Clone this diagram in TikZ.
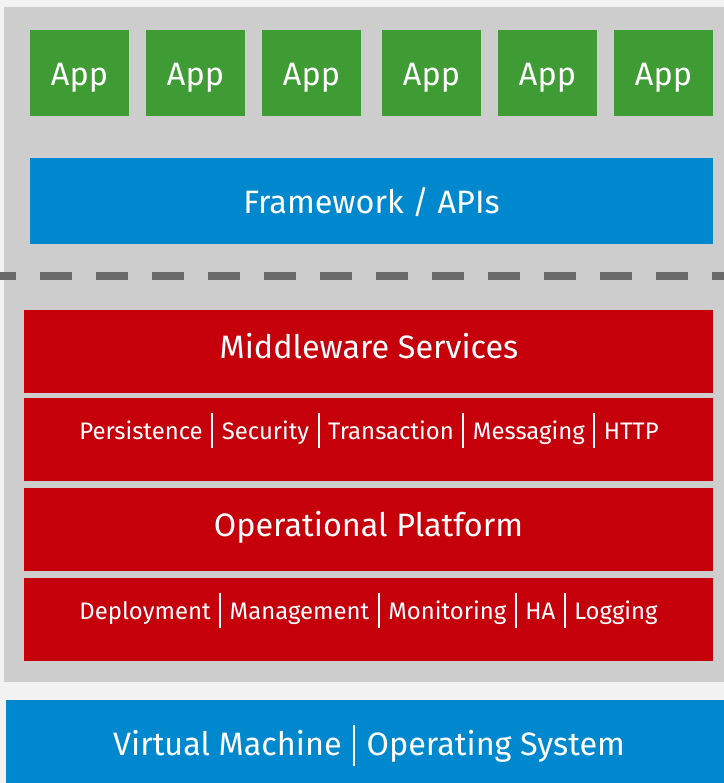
\documentclass[tikz,border=0pt]{standalone}
\usepackage{fontspec}
\setmainfont{Fira Sans}
\definecolor{bgc}{HTML}{F2F2F2}
\definecolor{panelc}{HTML}{CDCDCD}
\definecolor{appc}{HTML}{3F9C35}
\definecolor{bluec}{HTML}{0088CE}
\definecolor{redc}{HTML}{C5000B}
\definecolor{dashc}{HTML}{6A6A6A}
\newcommand{\sepbar}[3]{\hspace{#3}\rule[-#1]{2bp}{#2}\hspace{#3}}
\tikzset{
  boxbase/.style={rectangle, inner sep=0pt, anchor=center},
  appbox/.style={boxbase, fill=appc, minimum width=99bp, minimum height=86bp},
  fwbox/.style={boxbase, fill=bluec, minimum width=683bp, minimum height=86bp},
  redbox/.style={boxbase, fill=redc, minimum width=689bp, minimum height=83bp},
  vmbox/.style={boxbase, fill=bluec, minimum width=718bp, minimum height=83bp},
  lbl/.style={inner sep=0pt, anchor=base, text=white},
  bigtext/.style={lbl, font=\fontsize{32.5}{38}\selectfont},
  smalltext/.style={lbl, font=\fontsize{24}{28}\selectfont},
}
\begin{document}
\begin{tikzpicture}[x=1bp,y=-1bp]
\fill[bgc] (0,0) rectangle (724,783);
\useasboundingbox (0,0) rectangle (724,783);
\fill[panelc] (4,7) rectangle (724,682);
% apps
\foreach \i/\cx in {1/79.5,2/195.5,3/311.5,4/431.5,5/547.5,6/663.5}{
  \node[appbox] (app\i) at (\cx,73) {};
  \node[bigtext] (appt\i) at (\cx,85) {App};
}
% framework
\node[fwbox] (fw) at (371.5,201) {};
\node[bigtext] (fwt) at (371.5,213) {Framework / APIs};
% dashed divider
\coordinate (dl) at (0,276);
\coordinate (dr) at (724,276);
\draw[dashc, line width=8bp, dash pattern=on 32bp off 24bp, dash phase=16bp] (dl) -- (dr);
% red layers
\node[redbox] (mw) at (368.5,351.5) {};
\node[bigtext] (mwt) at (369,358) {Middleware Services};
\node[redbox] (mws) at (368.5,439.5) {};
\node[smalltext] (mwst) at (369,439) {Persistence\sepbar{9bp}{35bp}{8.5bp}Security\sepbar{9bp}{35bp}{8.5bp}Transaction\sepbar{9bp}{35bp}{8.5bp}Messaging\sepbar{9bp}{35bp}{8.5bp}HTTP};
\node[redbox] (op) at (368.5,529.5) {};
\node[bigtext] (opt) at (368.5,536.5) {Operational Platform};
\node[redbox] (ops) at (368.5,619.5) {};
\node[smalltext] (opst) at (368.5,619) {Deployment\sepbar{9bp}{35bp}{8.5bp}Management\sepbar{9bp}{35bp}{8.5bp}Monitoring\sepbar{9bp}{35bp}{8.5bp}HA\sepbar{9bp}{35bp}{8.5bp}Logging};
% bottom
\node[vmbox] (vm) at (365,741.5) {};
\node[bigtext] (vmt) at (369,755) {Virtual Machine\sepbar{11bp}{41bp}{11.5bp}Operating System};
\end{tikzpicture}
\end{document}
